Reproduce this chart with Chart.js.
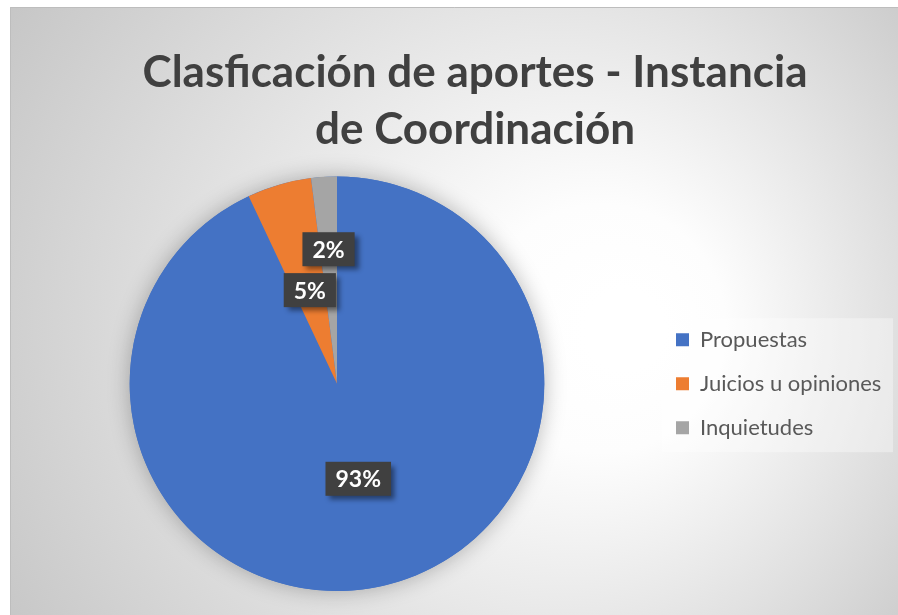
<!DOCTYPE html>
<html>
<head>
<meta charset="utf-8">
<script src="https://cdn.jsdelivr.net/npm/chart.js@4.4.1/dist/chart.umd.min.js"></script>
<style>
  html, body { margin: 0; padding: 0; background: #fff; overflow: hidden; }
  #wrap { width: 898px; height: 615px; }
</style>
</head>
<body>
<div id="wrap"><canvas id="chart" width="898" height="615"></canvas></div>
<script>
const categories = ['Propuestas', 'Juicios u opiniones', 'Inquietudes'];
const shares = [93, 5, 2];
const sliceColors = ['#4472C4', '#ED7D31', '#A5A5A5'];
const titleLines = ['Clasficación de aportes - Instancia', 'de Coordinación'];

const FONT = 'Lato';
const legendFontSize = 22;
const legendBox = 13;
const legendPad = 22;
const legendLeft = 654;
const titleCenter = 475;

// work out the right padding so the legend starts where the pie needs it to
const probe = document.createElement('canvas').getContext('2d');
probe.font = legendFontSize + 'px ' + FONT;
const longest = Math.max(...categories.map(c => probe.measureText(c).width));
const legendWidth = legendBox + legendFontSize / 2 + longest + legendPad + 10;
const rightPad = Math.max(0, 898 - legendLeft - legendWidth);

// background frame + radial gradient, legend panel
const backdrop = {
    id: 'backdrop',
    afterLayout(chart) {
        // the title sits a bit right of the canvas centre in the original
        const t = chart.titleBlock;
        if (t) t.left = 2 * titleCenter - t.right;
    },
    beforeDraw(chart) {
        const ctx = chart.ctx;
        ctx.save();
        ctx.fillStyle = '#fff';
        ctx.fillRect(0, 0, chart.width, chart.height);
        const g = ctx.createRadialGradient(625, 330, 40, 470, 320, 600);
        g.addColorStop(0, '#ffffff');
        g.addColorStop(0.15, '#fdfdfd');
        g.addColorStop(1, '#c2c2c2');
        ctx.fillStyle = g;
        ctx.fillRect(10, 7, chart.width - 10, chart.height - 7);
        ctx.strokeStyle = '#bdbdbd';
        ctx.lineWidth = 1;
        ctx.beginPath();
        ctx.moveTo(10.5, chart.height);
        ctx.lineTo(10.5, 7.5);
        ctx.lineTo(chart.width, 7.5);
        ctx.stroke();

        const hb = chart.legend.legendHitBoxes;
        if (hb && hb.length) {
            const first = hb[0], last = hb[hb.length - 1];
            const top = first.top - 10.5;
            ctx.fillStyle = 'rgba(255,255,255,0.35)';
            ctx.fillRect(first.left - 14, top, 893 - (first.left - 14),
                last.top + last.height + 13.5 - top);
        }
        ctx.restore();
    }
};

// soft shadow under the pie
const pieShadow = {
    id: 'pieShadow',
    beforeDatasetsDraw(chart) {
        const arc = chart.getDatasetMeta(0).data[0];
        if (!arc) return;
        const ctx = chart.ctx;
        ctx.save();
        ctx.shadowColor = 'rgba(0,0,0,0.28)';
        ctx.shadowBlur = 22;
        ctx.fillStyle = sliceColors[0];
        ctx.beginPath();
        ctx.arc(arc.x, arc.y, arc.outerRadius, 0, Math.PI * 2);
        ctx.fill();
        ctx.restore();
    }
};

// dark boxed percentage labels
const sliceLabels = {
    id: 'sliceLabels',
    afterDatasetsDraw(chart, args, opts) {
        const ctx = chart.ctx;
        const data = chart.data.datasets[0].data;
        const total = data.reduce((a, b) => a + b, 0);
        chart.getDatasetMeta(0).data.forEach((arc, i) => {
            const mid = (arc.startAngle + arc.endAngle) / 2;
            const r = arc.outerRadius * opts.radius[i];
            const x = arc.x + Math.cos(mid) * r;
            const y = arc.y + Math.sin(mid) * r;
            const text = Math.round(data[i] / total * 100) + '%';
            ctx.save();
            ctx.font = 'bold 23px ' + FONT;
            const w = ctx.measureText(text).width + 20;
            const h = 34;
            ctx.shadowColor = 'rgba(0,0,0,0.45)';
            ctx.shadowBlur = 5;
            ctx.shadowOffsetX = 4;
            ctx.shadowOffsetY = 4;
            ctx.fillStyle = '#404040';
            ctx.fillRect(x - w / 2, y - h / 2, w, h);
            ctx.shadowColor = 'transparent';
            ctx.fillStyle = '#ffffff';
            ctx.textAlign = 'center';
            ctx.textBaseline = 'middle';
            ctx.fillText(text, x, y + 1);
            ctx.restore();
        });
    }
};

const ctx = document.getElementById('chart').getContext('2d');

new Chart(ctx, {
    type: 'pie',
    data: {
        labels: categories,
        datasets: [{
            data: shares,
            backgroundColor: sliceColors,
            borderWidth: 0,
        }]
    },
    options: {
        responsive: false,
        animation: false,
        devicePixelRatio: 1,
        layout: {
            padding: { left: 2 * 337 - legendLeft, top: 7, right: rightPad, bottom: 24 }
        },
        plugins: {
            title: {
                display: true,
                text: titleLines,
                color: '#404040',
                font: { family: FONT, size: 44, weight: 'bold', lineHeight: 1.3 },
                padding: { top: 37, bottom: 18 },
            },
            legend: {
                position: 'right',
                fullSize: false,
                labels: {
                    boxWidth: legendBox,
                    boxHeight: legendBox,
                    padding: legendPad,
                    color: '#595959',
                    font: { family: FONT, size: legendFontSize },
                },
            },
            tooltip: { enabled: false },
            sliceLabels: { radius: [0.47, 0.47, 0.65] },
        }
    },
    plugins: [backdrop, pieShadow, sliceLabels]
});
</script>
</body>
</html>
